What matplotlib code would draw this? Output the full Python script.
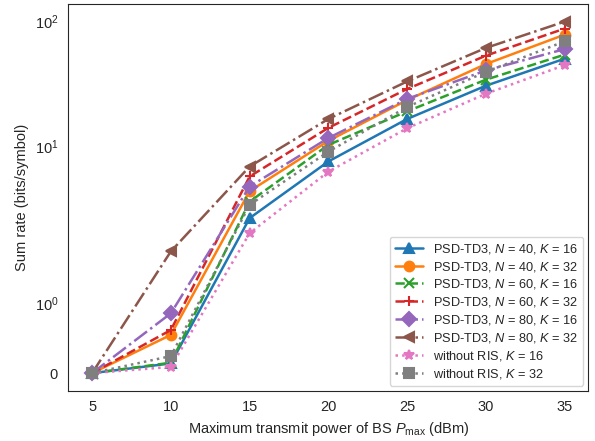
import matplotlib
matplotlib.use("Agg")
from matplotlib import pyplot as plt
import seaborn as sns

# transmit power (dBm)
p_max = [5, 10, 15, 20, 25, 30, 35]

# sum rate (bits/symbol)
n40_k16 = [0, 0.14, 2.68, 7.6, 16.6, 30.6, 50.3]
n40_k32 = [0, 0.55, 4.4, 11.1, 23.5, 45.6, 78.3]
n60_k16 = [0, 0.15, 3.63, 10.3, 19.1, 34.2, 54.2]
n60_k32 = [0, 0.62, 5.76, 14.1, 28.8, 53.2, 87.5]
n80_k16 = [0, 0.86, 4.79, 11.7, 24.0, 40.5, 60.0]
n80_k32 = [0, 1.75, 6.92, 16.6, 33.1, 61.3, 99.5]
noris_k16 = [0, 0.09, 2.03, 6.3, 14.0, 26.4, 44.7]
noris_k32 = [0, 0.245, 3.42, 9.1, 20.7, 39.5, 69.2]

series = [
    (n40_k16, "PSD-TD3, $N$ = 40, $K$ = 16", "tab:blue", "-", "^"),
    (n40_k32, "PSD-TD3, $N$ = 40, $K$ = 32", "tab:orange", "-", "o"),
    (n60_k16, "PSD-TD3, $N$ = 60, $K$ = 16", "tab:green", "--", "x"),
    (n60_k32, "PSD-TD3, $N$ = 60, $K$ = 32", "tab:red", "--", "+"),
    (n80_k16, "PSD-TD3, $N$ = 80, $K$ = 16", "tab:purple", "-.", "D"),
    (n80_k32, "PSD-TD3, $N$ = 80, $K$ = 32", "tab:brown", "-.", "<"),
    (noris_k16, "without RIS, $K$ = 16", "tab:pink", ":", "*"),
    (noris_k32, "without RIS, $K$ = 32", "tab:gray", ":", "s"),
]


def main():
    sns.set_style("white")
    plt.rcParams["font.family"] = ["Liberation Sans", "DejaVu Sans"]
    plt.rcParams["mathtext.fontset"] = "custom"
    plt.rcParams["mathtext.rm"] = "Liberation Sans"
    plt.rcParams["mathtext.it"] = "Liberation Sans:italic"

    fig = plt.figure(figsize=(5.95, 4.41), dpi=100)
    axs = fig.add_axes([0.115, 0.114, 0.874, 0.877])

    for values, label, color, style, marker in series:
        axs.plot(p_max, values, linestyle=style, marker=marker, color=color,
                 label=label, linewidth=1.8, markersize=7,
                 markeredgewidth=1.5)

    axs.set_yscale("symlog")
    axs.set_yticks([0, 1, 10, 100])
    axs.set_xticks(p_max)
    axs.tick_params(labelsize=10.5)

    axs.set_xlabel(r"Maximum transmit power of BS $P_{\max}$ (dBm)",
                   fontsize=10.5)
    axs.set_ylabel("Sum rate (bits/symbol)", fontsize=10.5)
    axs.legend(loc="lower right", fontsize=9.2, labelspacing=0.3,
               handlelength=2.2, borderaxespad=0.4)

    fig.savefig("out.png", dpi=100)
    plt.close(fig)


if __name__ == "__main__":
    main()
